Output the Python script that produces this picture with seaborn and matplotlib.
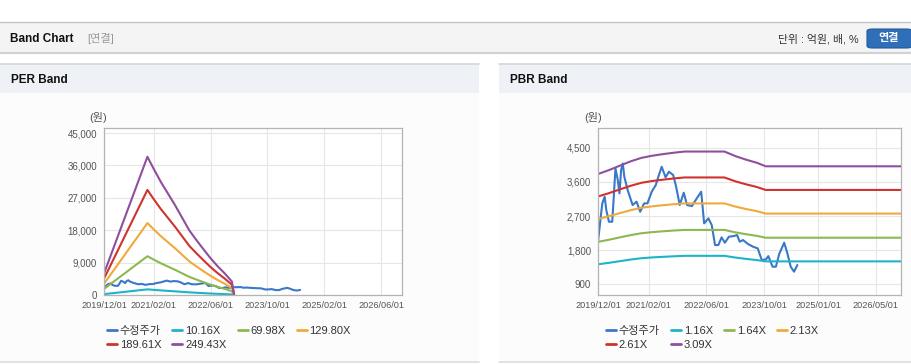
import pandas as pd
import matplotlib
matplotlib.use('Agg')
import matplotlib.pyplot as plt
from matplotlib.patches import Rectangle, FancyBboxPatch
from matplotlib.lines import Line2D
import seaborn as sns

# ---- data ----
price_dates = ['2019-12-01', '2019-12-15', '2020-01-06', '2020-01-26', '2020-02-09', '2020-03-02',
               '2020-03-30', '2020-04-12', '2020-04-26', '2020-05-16', '2020-05-30', '2020-06-13',
               '2020-06-27', '2020-07-10', '2020-08-07', '2020-09-18', '2020-10-21', '2020-11-21',
               '2020-12-24', '2021-01-21', '2021-02-26', '2021-04-01', '2021-04-23', '2021-05-21',
               '2021-06-23', '2021-07-21', '2021-08-26', '2021-09-20', '2021-10-20', '2021-11-23',
               '2021-12-21', '2022-01-31', '2022-02-28', '2022-04-19', '2022-05-14', '2022-06-19',
               '2022-07-17', '2022-08-14', '2022-09-11', '2022-10-08', '2022-11-05', '2022-12-09',
               '2023-01-19', '2023-02-16', '2023-03-10', '2023-04-07', '2023-05-19', '2023-06-30',
               '2023-08-09', '2023-09-12', '2023-10-18', '2023-11-06', '2023-12-12', '2024-01-09',
               '2024-02-06', '2024-03-19', '2024-04-15', '2024-05-13', '2024-06-10', '2024-07-08']
price_vals = [2024, 2419, 3034, 3209, 2858, 2551,
              2551, 3209, 3956, 3648, 3297, 3912,
              4087, 3736, 3385, 2990, 3078, 2814,
              3034, 3034, 3341, 3517, 3736, 4000,
              3719, 3868, 3780, 3473, 2990, 3315,
              2990, 2963, 3104, 3341, 2507, 2639,
              2463, 1936, 1936, 2138, 1998, 2156,
              2173, 2200, 2024, 2068, 1963, 1892,
              1848, 1541, 1559, 1646, 1365, 1365,
              1699, 1998, 1717, 1365, 1234, 1409]

per_dates = ['2019-12-01', '2020-02-01', '2020-04-01', '2020-06-01', '2020-08-01', '2020-10-01',
             '2020-12-07', '2021-02-01', '2021-04-01', '2021-06-01', '2021-08-01', '2021-10-01',
             '2021-12-01', '2022-02-01', '2022-04-01', '2022-06-01', '2022-08-01', '2022-10-01',
             '2022-12-01', '2022-12-20']
per_1016 = [244, 463, 677, 893, 1109, 1326, 1565, 1422, 1280, 1148, 1016, 874,
            732, 620, 518, 417, 325, 244, 152, 10]
per_6998 = [1680, 3191, 4661, 6151, 7642, 9132, 10777, 9797, 8817, 7908, 6998, 6018,
            5039, 4269, 3569, 2869, 2239, 1680, 1050, 70]
per_12980 = [3115, 5919, 8645, 11409, 14174, 16939, 19989, 18172, 16355, 14667, 12980, 11163,
             9346, 7918, 6620, 5322, 4154, 3115, 1947, 130]
per_18961 = [4551, 8646, 12628, 16667, 20705, 24744, 29200, 26545, 23891, 21426, 18961, 16306,
             13652, 11566, 9670, 7774, 6068, 4551, 2844, 190]
per_24943 = [5986, 11374, 16612, 21925, 27238, 32551, 38412, 34920, 31428, 28186, 24943, 21451,
             17959, 15215, 12721, 10226, 7982, 5986, 3741, 249]

pbr_dates = ['2019-12-01', '2020-03-01', '2020-06-01', '2020-09-01', '2020-12-01', '2021-03-01',
             '2021-06-01', '2021-09-01', '2021-12-01', '2022-11-01', '2023-02-01', '2023-05-01',
             '2023-08-01', '2023-10-15', '2026-12-31']
pbr_116 = [1429, 1467, 1511, 1554, 1589, 1610, 1626, 1640, 1652, 1652, 1607, 1572, 1540, 1506, 1506]
pbr_164 = [2020, 2075, 2137, 2198, 2247, 2276, 2299, 2319, 2335, 2335, 2271, 2222, 2178, 2129, 2129]
pbr_213 = [2624, 2694, 2775, 2854, 2918, 2956, 2986, 3012, 3033, 3033, 2950, 2886, 2829, 2765, 2765]
pbr_261 = [3216, 3302, 3401, 3497, 3576, 3623, 3659, 3691, 3717, 3717, 3615, 3537, 3466, 3388, 3388]
pbr_309 = [3807, 3909, 4026, 4141, 4233, 4289, 4332, 4369, 4400, 4400, 4280, 4187, 4104, 4011, 4011]

per_labels = ['수정주가', '10.16X', '69.98X', '129.80X', '189.61X', '249.43X']
pbr_labels = ['수정주가', '1.16X', '1.64X', '2.13X', '2.61X', '3.09X']
line_colors = ['#3a78c8', '#1fb3c8', '#8db850', '#f0aa3c', '#d0332e', '#8f4f9e']

per_xticks = ['2019/12/01', '2021/02/01', '2022/06/01', '2023/10/01', '2025/02/01', '2026/06/01']
pbr_xticks = ['2019/12/01', '2021/02/01', '2022/06/01', '2023/10/01', '2025/01/01', '2026/05/01']
per_yticks = [0, 9000, 18000, 27000, 36000, 45000]
pbr_yticks = [900, 1800, 2700, 3600, 4500]

W, H = 912, 364


def fx(x):
    return x / W


def fy(y):
    return 1 - y / H


def long_frame(labels, bands_dates, bands):
    parts = [pd.DataFrame({'date': pd.to_datetime(price_dates), 'value': price_vals,
                           'series': labels[0]})]
    for lab, vals in zip(labels[1:], bands):
        parts.append(pd.DataFrame({'date': pd.to_datetime(bands_dates), 'value': vals,
                                   'series': lab}))
    return pd.concat(parts, ignore_index=True)


def draw_band(ax, df, labels, xticks, yticks, ylim, xend):
    sns.lineplot(data=df, x='date', y='value', hue='series', hue_order=labels,
                 palette=line_colors, estimator=None, linewidth=1.5, legend=False, ax=ax)
    ax.set_xlim(pd.Timestamp('2019-12-01'), pd.Timestamp(xend))
    ax.set_ylim(*ylim)
    ax.set_xticks(pd.to_datetime([t.replace('/', '-') for t in xticks]))
    ax.set_xticklabels(xticks)
    ax.set_yticks(yticks)
    ax.set_yticklabels([f'{v:,}' for v in yticks])
    ax.set_xlabel('')
    ax.set_ylabel('')
    ax.grid(True, color='#e6e6e6', linewidth=0.8)
    ax.set_axisbelow(True)
    for s in ax.spines.values():
        s.set_color('#b4b4b4')
        s.set_linewidth(0.9)
    ax.tick_params(axis='x', length=0, pad=4, labelsize=6.6, colors='#555555')
    ax.tick_params(axis='y', length=3, width=0.8, color='#b4b4b4', pad=2,
                   labelsize=7, labelcolor='#555555')
    ax.set_facecolor('white')


def bg_rect(x0, y0, x1, y1, color):
    fig.add_artist(Rectangle((fx(x0), fy(y1)), (x1 - x0) / W, (y1 - y0) / H,
                             transform=fig.transFigure, facecolor=color, edgecolor='none', zorder=-5))


def bg_line(x0, x1, y, color, lw):
    fig.add_artist(Line2D([fx(x0), fx(x1)], [fy(y), fy(y)], transform=fig.transFigure,
                          color=color, lw=lw, zorder=-4))


sns.set_style('white')
plt.rcParams['font.family'] = ['Liberation Sans', 'Noto Sans CJK KR']
plt.rcParams['axes.unicode_minus'] = False

fig = plt.figure(figsize=(W / 100, H / 100), dpi=100, facecolor='white')

# top bar
bg_rect(0, 22, 912, 53, '#f4f4f4')
bg_line(0, 912, 22, '#c4c4c4', 1)
bg_line(0, 912, 53, '#d2d2d2', 1.6)
fig.text(fx(10), fy(39), 'Band Chart', fontsize=8.5, fontweight='bold', color='#111111', va='center')
fig.text(fx(87), fy(39), '[연결]', fontsize=8, color='#999999', va='center')
fig.text(fx(859), fy(39), '단위 : 억원, 배, %', fontsize=7.8, color='#333333', va='center', ha='right')
fig.add_artist(FancyBboxPatch((fx(867), fy(48)), (912 - 867) / W, 19 / H, transform=fig.transFigure,
                              boxstyle='round,pad=0,rounding_size=0.006', facecolor='#2f6fb8',
                              edgecolor='#245a99', lw=0.8, zorder=-3))
fig.text(fx(889), fy(38.5), '연결', fontsize=8, fontweight='bold', color='white', va='center', ha='center')

# panels
for x0, x1, title in [(0, 479, 'PER Band'), (499, 912, 'PBR Band')]:
    bg_rect(x0, 93, x1, 361, '#fcfcfc')
    bg_rect(x0, 64, x1, 93, '#eef2f7')
    bg_line(x0, x1, 64, '#d6d6d6', 1.2)
    bg_line(x0, x1, 362, '#dddddd', 1.2)
    fig.text(fx(x0 + 11), fy(80), title, fontsize=8.5, fontweight='bold', color='#111111', va='center')

# PER chart
ax1 = fig.add_axes([fx(104), fy(295), (402 - 104) / W, (295 - 128) / H])
df_per = long_frame(per_labels, per_dates, [per_1016, per_6998, per_12980, per_18961, per_24943])
draw_band(ax1, df_per, per_labels, per_xticks, per_yticks, (0, 46400), '2026-11-28')
fig.text(fx(98), fy(118), '(원)', fontsize=8, color='#555555', va='center', ha='center')

# PBR chart
ax2 = fig.add_axes([fx(598), fy(295), (901 - 598) / W, (295 - 128) / H])
df_pbr = long_frame(pbr_labels, pbr_dates, [pbr_116, pbr_164, pbr_213, pbr_261, pbr_309])
draw_band(ax2, df_pbr, pbr_labels, pbr_xticks, pbr_yticks, (620, 5020), '2026-11-29')
fig.text(fx(593), fy(118), '(원)', fontsize=8, color='#555555', va='center', ha='center')

# legends: matplotlib fills column by column, so reorder to read row by row
order = [0, 4, 1, 5, 2, 3]
for ax, labels, x0 in [(ax1, per_labels, 107), (ax2, pbr_labels, 606)]:
    handles = [Line2D([], [], color=line_colors[i], lw=2) for i in order]
    leg = ax.legend(handles, [labels[i] for i in order], ncol=4, loc='upper left',
                    bbox_to_anchor=(fx(x0), fy(326)), bbox_transform=fig.transFigure,
                    frameon=False, fontsize=8, handlelength=0.9, handletextpad=0.25,
                    columnspacing=1.0, labelspacing=0.35, borderpad=0, borderaxespad=0)
    for t in leg.get_texts():
        t.set_color('#333333')

fig.savefig('out.png', dpi=100, facecolor='white')
